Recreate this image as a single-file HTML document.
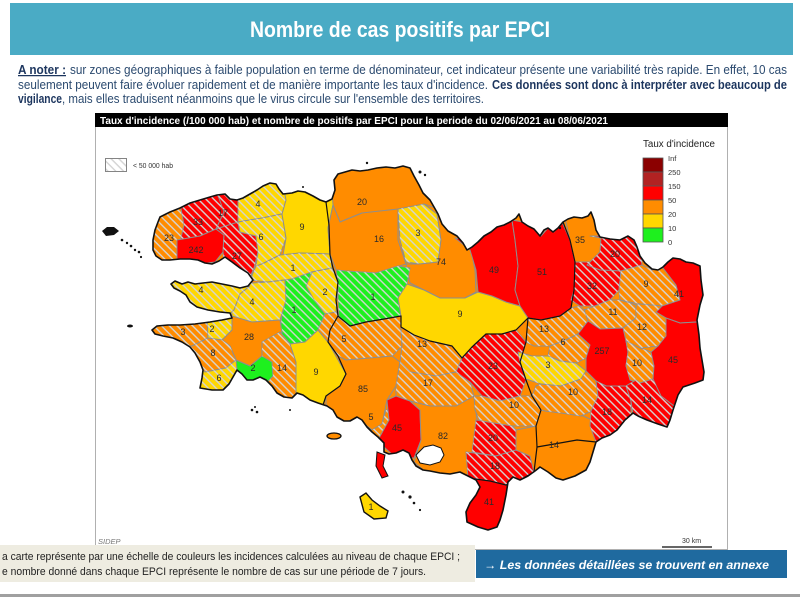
<!DOCTYPE html>
<html><head><meta charset="utf-8"><style>
html,body{margin:0;padding:0;background:#fff;}
body{width:800px;height:600px;overflow:hidden;}
svg{display:block;font-family:"Liberation Sans",Arial,sans-serif;}
.r{fill:#ff0000}.o{fill:#ff8c00}.y{fill:#ffd700}.g{fill:#1ef01e}
.reg polygon{stroke:#8e8e8e;stroke-width:1;stroke-linejoin:round}
.reg polygon.hh{fill:url(#h);stroke:none}
.lab text{font-size:9px;fill:#2a2a2a;text-anchor:middle}
</style></head><body>
<svg width="800" height="600" viewBox="0 0 800 600" xmlns="http://www.w3.org/2000/svg">
<defs>
<pattern id="h" patternUnits="userSpaceOnUse" width="5.5" height="5.5" patternTransform="rotate(45)">
<rect x="0" y="0" width="5.5" height="1.4" fill="#d4d4d4"/>
</pattern>
<clipPath id="land"><path id="landp" d="M160,217 L170,212 L180,208 L190,203 L200,200 L210,197 L217,195 L225,194 L230,199 L237,200 L243,198 L250,194 L257,190 L263,186 L270,183 L276,184 L279,189 L283,194 L292,193 L298,191 L305,192 L313,196 L320,200 L326,202 L332,199 L335,190 L334,180 L338,174 L345,172 L352,170 L360,171 L368,170 L377,168 L386,167 L395,168 L403,166 L410,168 L414,176 L419,185 L423,193 L430,200 L434,207 L438,214 L442,224 L448,231 L457,236 L463,243 L467,250 L472,247 L478,242 L484,236 L491,232 L497,227 L504,225 L510,222 L516,218 L519,214 L522,222 L528,226 L534,229 L540,236 L544,230 L548,228 L553,232 L558,228 L563,222 L568,219 L574,217 L582,218 L588,216 L591,212 L594,220 L596,230 L600,237 L610,239 L620,240 L628,236 L634,240 L637,247 L640,256 L645,263 L652,269 L658,270 L663,267 L668,262 L673,258 L680,259 L686,262 L693,263 L700,266 L701,280 L703,295 L700,305 L697,320 L699,335 L700,348 L702,360 L704,372 L703,380 L695,383 L683,387 L678,395 L673,410 L670,420 L667,427 L658,424 L647,420 L638,416 L633,413 L625,420 L617,430 L610,435 L602,438 L596,442 L593,452 L590,462 L586,470 L575,476 L563,480 L556,478 L548,472 L540,467 L535,471 L528,476 L520,480 L513,477 L508,482 L506,495 L503,510 L500,520 L497,527 L488,530 L478,527 L467,522 L466,512 L470,503 L476,495 L480,487 L476,480 L468,476 L460,472 L450,474 L440,473 L430,471 L423,470 L416,466 L412,460 L409,453 L403,450 L396,453 L389,454 L384,452 L384,443 L378,437 L372,432 L367,427 L362,420 L357,417 L350,421 L344,421 L337,417 L333,410 L327,406 L318,403 L310,400 L303,395 L297,393 L292,398 L284,397 L277,393 L272,386 L266,380 L260,377 L253,380 L247,380 L242,374 L237,370 L233,377 L229,384 L223,390 L212,390 L200,388 L202,378 L203,370 L200,362 L195,353 L190,347 L182,342 L173,338 L163,336 L155,334 L152,330 L157,326 L168,325 L180,325 L195,324 L210,322 L222,320 L232,318 L230,313 L220,312 L208,310 L197,307 L190,302 L186,295 L180,291 L174,288 L171,284 L175,281 L182,284 L188,282 L195,284 L203,283 L212,282 L222,284 L232,286 L240,288 L248,286 L253,280 L248,273 L240,268 L232,262 L225,257 L219,261 L212,264 L205,263 L198,260 L190,259 L180,259 L170,260 L162,260 L156,256 L153,250 L153,240 L155,230 L158,222 Z"/></clipPath>
</defs>

<!-- header -->
<rect x="10" y="3" width="783" height="52" fill="#4aabc5"/>
<text x="400" y="37" font-size="22" font-weight="bold" fill="#ffffff" text-anchor="middle" textLength="300" lengthAdjust="spacingAndGlyphs">Nombre de cas positifs par EPCI</text>

<!-- note paragraph -->
<g font-size="12.5">
<text x="18" y="74" font-weight="bold" fill="#1c355e" text-decoration="underline" textLength="48" lengthAdjust="spacingAndGlyphs">A noter :</text>
<text x="70" y="74" fill="#2b4a6f" textLength="717" lengthAdjust="spacingAndGlyphs">sur zones géographiques à faible population en terme de dénominateur, cet indicateur présente une variabilité très rapide. En effet, 10 cas</text>
<text x="18" y="89" fill="#2b4a6f" textLength="470" lengthAdjust="spacingAndGlyphs">seulement peuvent faire évoluer rapidement et de manière importante les taux d'incidence.</text>
<text x="492" y="89" font-weight="bold" fill="#1c355e" textLength="295" lengthAdjust="spacingAndGlyphs">Ces données sont donc à interpréter avec beaucoup de</text>
<text x="18" y="103" font-weight="bold" fill="#1c355e" textLength="44" lengthAdjust="spacingAndGlyphs">vigilance</text>
<text x="62" y="103" fill="#2b4a6f" textLength="422" lengthAdjust="spacingAndGlyphs">, mais elles traduisent néanmoins que le virus circule sur l'ensemble des territoires.</text>
</g>

<!-- map frame -->
<rect x="95.5" y="113.5" width="632" height="436" fill="#fff" stroke="#b0b0b0" stroke-width="1"/>
<rect x="95" y="113" width="633" height="14" fill="#000"/>
<text x="100" y="124" font-size="10" font-weight="bold" fill="#fff" textLength="508" lengthAdjust="spacingAndGlyphs">Taux d'incidence (/100 000 hab) et nombre de positifs par EPCI pour la periode du 02/06/2021 au 08/06/2021</text>

<!-- hatch legend -->
<rect x="105.5" y="158.5" width="21" height="13" fill="#fff" stroke="#666" stroke-width="0.8"/>
<rect x="106" y="159" width="20" height="12" fill="url(#h)"/>
<text x="133" y="168" font-size="7" fill="#333" textLength="40" lengthAdjust="spacingAndGlyphs">&lt; 50 000 hab</text>

<!-- color legend -->
<text x="643" y="147" font-size="10" fill="#222" textLength="72" lengthAdjust="spacingAndGlyphs">Taux d'incidence</text>
<g stroke="#555" stroke-width="0.8">
<rect x="643" y="158" width="20" height="14" fill="#8b0000"/>
<rect x="643" y="172" width="20" height="14" fill="#b22222"/>
<rect x="643" y="186" width="20" height="14" fill="#ff0000"/>
<rect x="643" y="200" width="20" height="14" fill="#ff8c00"/>
<rect x="643" y="214" width="20" height="14" fill="#ffd700"/>
<rect x="643" y="228" width="20" height="14" fill="#1ef01e"/>
</g>
<g font-size="7.5" fill="#333">
<text x="668" y="161">Inf</text>
<text x="668" y="175">250</text>
<text x="668" y="189">150</text>
<text x="668" y="203">50</text>
<text x="668" y="217">20</text>
<text x="668" y="231">10</text>
<text x="668" y="245">0</text>
</g>

<!-- map regions -->
<g clip-path="url(#land)">
<rect x="100" y="150" width="620" height="400" fill="#ff8c00"/>
<g class="reg">
<polygon class="o" points="140,205 187,200 193,225 182,240 178,262 140,265"/><polygon class="hh" points="140,205 187,200 193,225 182,240 178,262 140,265"/>
<polygon class="r" points="180,203 218,190 224,212 216,229 200,236 180,242 184,225"/><polygon class="hh" points="180,203 218,190 224,212 216,229 200,236 180,242 184,225"/>
<polygon class="r" points="216,190 238,192 238,222 224,232 216,229 224,212"/><polygon class="hh" points="216,190 238,192 238,222 224,232 216,229 224,212"/>
<polygon class="r" points="177,240 200,236 216,229 224,235 223,252 215,262 200,264 177,266"/>
<polygon class="r" points="216,229 238,222 240,232 256,236 258,252 254,268 248,282 232,282 224,262 223,252 224,235"/><polygon class="hh" points="216,229 238,222 240,232 256,236 258,252 254,268 248,282 232,282 224,262 223,252 224,235"/>
<polygon class="y" points="236,180 290,175 286,200 282,214 262,218 238,222 238,192"/><polygon class="hh" points="236,180 290,175 286,200 282,214 262,218 238,222 238,192"/>
<polygon class="y" points="238,222 262,218 282,214 286,238 280,255 262,264 256,266 258,252 256,236 240,232"/><polygon class="hh" points="238,222 262,218 282,214 286,238 280,255 262,264 256,266 258,252 256,236 240,232"/>
<polygon class="y" points="282,180 335,180 333,205 328,228 330,254 300,253 283,255 286,238 282,214 286,200"/>
<polygon class="y" points="256,266 262,264 280,255 300,253 330,254 332,268 312,272 292,279 268,282 250,280"/><polygon class="hh" points="256,266 262,264 280,255 300,253 330,254 332,268 312,272 292,279 268,282 250,280"/>
<polygon class="y" points="160,276 252,276 250,286 240,294 234,310 226,318 190,315 170,290"/><polygon class="hh" points="160,276 252,276 250,286 240,294 234,310 226,318 190,315 170,290"/>
<polygon class="y" points="236,284 268,282 285,280 286,300 280,320 252,322 232,320 226,318 234,310 240,294 250,286"/><polygon class="hh" points="236,284 268,282 285,280 286,300 280,320 252,322 232,320 226,318 234,310 240,294 250,286"/>
<polygon class="y" points="312,272 332,268 338,282 336,312 325,314 314,300 306,286"/><polygon class="hh" points="312,272 332,268 338,282 336,312 325,314 314,300 306,286"/>
<polygon class="g" points="285,280 292,279 312,272 306,286 314,300 325,314 318,330 305,342 290,344 280,332 282,315 286,300"/><polygon class="hh" points="285,280 292,279 312,272 306,286 314,300 325,314 318,330 305,342 290,344 280,332 282,315 286,300"/>
<polygon class="o" points="140,318 207,318 208,338 192,348 170,345 140,345"/><polygon class="hh" points="140,318 207,318 208,338 192,348 170,345 140,345"/>
<polygon class="y" points="205,316 232,314 232,330 222,340 208,338 207,318"/><polygon class="hh" points="205,316 232,314 232,330 222,340 208,338 207,318"/>
<polygon class="o" points="232,316 252,322 280,320 282,333 276,350 262,356 250,366 236,360 230,346 222,340 232,330"/>
<polygon class="o" points="192,346 208,338 222,340 230,346 236,360 226,368 205,372 195,362 180,346"/><polygon class="hh" points="192,346 208,338 222,340 230,346 236,360 226,368 205,372 195,362 180,346"/>
<polygon class="y" points="190,362 195,362 205,372 226,368 236,360 242,368 242,400 190,400"/><polygon class="hh" points="190,362 195,362 205,372 226,368 236,360 242,368 242,400 190,400"/>
<polygon class="g" points="236,360 250,366 262,356 272,362 273,376 264,386 248,386 238,380"/>
<polygon class="o" points="262,342 280,332 290,344 296,362 298,410 275,410 264,386 273,376 272,362 262,356"/><polygon class="hh" points="262,342 280,332 290,344 296,362 298,410 275,410 264,386 273,376 272,362 262,356"/>
<polygon class="y" points="290,344 305,342 318,330 328,342 338,356 346,374 340,386 326,396 322,410 296,410 296,362"/>

<polygon class="o" points="330,160 440,160 442,212 412,207 398,214 362,213 340,222 333,205"/>
<polygon class="o" points="333,205 340,222 362,213 398,209 398,240 406,264 376,273 346,271 336,270 330,254 328,228"/>
<polygon class="y" points="398,209 424,204 437,214 441,240 438,262 420,264 406,262 400,240"/><polygon class="hh" points="398,209 424,204 437,214 441,240 438,262 420,264 406,262 400,240"/>
<polygon class="o" points="424,204 442,210 458,235 470,245 475,270 476,292 465,298 440,298 424,290 410,283 406,264 420,264 438,262 441,240 437,214"/>
<polygon class="g" points="336,270 346,271 376,273 398,266 410,268 407,284 398,298 401,316 384,319 366,322 350,326 339,318 338,298 338,282"/><polygon class="hh" points="336,270 346,271 376,273 398,266 410,268 407,284 398,298 401,316 384,319 366,322 350,326 339,318 338,298 338,282"/>
<polygon class="y" points="398,298 407,284 424,290 440,298 465,298 478,292 492,296 506,302 520,306 528,318 516,330 502,334 486,334 472,347 462,358 452,346 430,341 414,335 401,327 401,316"/>
<polygon class="o" points="318,330 325,314 336,312 339,318 350,326 366,322 384,319 401,316 401,327 402,346 392,356 370,358 346,360 338,356 328,342"/><polygon class="hh" points="318,330 325,314 336,312 339,318 350,326 366,322 384,319 401,316 401,327 402,346 392,356 370,358 346,360 338,356 328,342"/>
<polygon class="o" points="401,327 414,335 430,341 452,346 462,358 456,372 436,376 410,372 400,362 402,346"/><polygon class="hh" points="401,327 414,335 430,341 452,346 462,358 456,372 436,376 410,372 400,362 402,346"/>
<polygon class="o" points="328,342 338,356 346,360 370,358 392,356 400,362 396,386 387,400 382,424 372,430 357,418 345,422 332,414 326,404 326,396 340,386 346,374"/>
<polygon class="o" points="357,418 372,430 382,424 386,410 396,410 390,440 379,445 365,430"/><polygon class="hh" points="357,418 372,430 382,424 386,410 396,410 390,440 379,445 365,430"/>
<polygon class="o" points="400,362 410,372 436,376 456,372 470,382 474,396 456,406 430,406 410,401 396,396 396,386"/><polygon class="hh" points="400,362 410,372 436,376 456,372 470,382 474,396 456,406 430,406 410,401 396,396 396,386"/>
<polygon class="r" points="387,400 396,396 410,401 420,410 421,440 414,458 396,458 384,447 378,440 389,420"/>
<polygon class="o" points="410,401 430,406 456,406 474,396 477,420 474,450 472,480 450,480 428,474 414,462 421,440 420,410"/>
<polygon class="r" points="472,347 486,334 502,334 516,330 526,342 520,362 526,380 520,396 500,401 482,396 470,382 456,372 462,358"/><polygon class="hh" points="472,347 486,334 502,334 516,330 526,342 520,362 526,380 520,396 500,401 482,396 470,382 456,372 462,358"/>
<polygon class="o" points="474,396 482,396 500,401 520,396 532,396 541,410 536,426 512,426 480,421 475,410"/><polygon class="hh" points="474,396 482,396 500,401 520,396 532,396 541,410 536,426 512,426 480,421 475,410"/>
<polygon class="r" points="476,420 512,426 518,432 516,450 496,456 472,452"/><polygon class="hh" points="476,420 512,426 518,432 516,450 496,456 472,452"/>
<polygon class="r" points="466,452 496,456 516,450 530,456 536,470 526,482 506,485 490,481 468,478"/><polygon class="hh" points="466,452 496,456 516,450 530,456 536,470 526,482 506,485 490,481 468,478"/>
<polygon class="o" points="516,430 536,426 541,410 570,410 592,420 602,440 596,452 590,472 563,482 552,478 540,468 534,472 530,456 516,450"/>
<polygon class="r" points="462,477 490,481 506,485 526,482 512,540 460,540"/>

<polygon class="r" points="455,238 470,240 484,236 498,226 512,220 515,240 518,266 515,290 520,306 506,302 492,296 478,292 476,270 470,250"/>
<polygon class="r" points="512,220 523,222 534,228 541,236 548,228 554,232 562,222 570,240 575,262 574,290 571,308 560,316 541,320 528,318 520,306 515,290 518,266 515,240"/>
<polygon class="o" points="562,205 598,205 601,238 600,252 590,262 575,262 570,240"/>
<polygon class="r" points="590,236 640,236 642,265 621,271 600,270 587,265 590,262 600,252 601,238"/><polygon class="hh" points="590,236 640,236 642,265 621,271 600,270 587,265 590,262 600,252 601,238"/>
<polygon class="r" points="575,262 590,262 587,265 600,270 621,271 619,290 610,300 595,306 580,306 571,300 574,290"/><polygon class="hh" points="575,262 590,262 587,265 600,270 621,271 619,290 610,300 595,306 580,306 571,300 574,290"/>
<polygon class="o" points="621,271 642,265 652,270 663,268 676,285 680,300 662,306 640,304 620,300 619,290"/><polygon class="hh" points="621,271 642,265 652,270 663,268 676,285 680,300 662,306 640,304 620,300 619,290"/>
<polygon class="r" points="663,268 672,250 710,250 710,325 697,322 680,323 666,318 656,312 662,306 680,300 676,285"/>
<polygon class="o" points="584,310 595,306 610,300 620,300 636,305 636,318 623,328 600,329 588,321"/><polygon class="hh" points="584,310 595,306 610,300 620,300 636,305 636,318 623,328 600,329 588,321"/>
<polygon class="o" points="636,305 640,304 662,306 656,312 666,318 666,336 658,346 640,348 626,341 623,328 636,318"/><polygon class="hh" points="636,305 640,304 662,306 656,312 666,318 666,336 658,346 640,348 626,341 623,328 636,318"/>
<polygon class="o" points="528,318 541,320 560,316 571,308 580,306 584,310 588,321 578,334 566,340 550,346 534,346 526,342"/><polygon class="hh" points="528,318 541,320 560,316 571,308 580,306 584,310 588,321 578,334 566,340 550,346 534,346 526,342"/>
<polygon class="o" points="550,346 566,340 578,334 590,345 586,358 576,363 560,361 548,356"/><polygon class="hh" points="550,346 566,340 578,334 590,345 586,358 576,363 560,361 548,356"/>
<polygon class="r" points="588,321 600,329 623,328 626,341 628,352 626,366 636,380 626,386 606,386 596,381 586,371 586,358 590,345 578,334"/>
<polygon class="o" points="626,341 640,348 651,352 654,366 653,379 640,383 630,380 626,366 628,352"/><polygon class="hh" points="626,341 640,348 651,352 654,366 653,379 640,383 630,380 626,366 628,352"/>
<polygon class="r" points="666,318 680,323 697,322 710,322 710,390 682,392 674,406 661,396 651,386 653,379 654,366 651,352 658,346 666,336"/>
<polygon class="y" points="518,352 532,356 548,356 560,361 576,363 586,371 581,379 561,386 541,384 526,379 520,362"/><polygon class="hh" points="518,352 532,356 548,356 560,361 576,363 586,371 581,379 561,386 541,384 526,379 520,362"/>
<polygon class="o" points="536,386 541,384 561,386 581,379 586,371 596,381 598,396 591,411 581,416 561,413 545,411 541,410 532,396"/><polygon class="hh" points="536,386 541,384 561,386 581,379 586,371 596,381 598,396 591,411 581,416 561,413 545,411 541,410 532,396"/>
<polygon class="r" points="596,381 606,386 626,386 631,401 631,416 618,431 608,438 596,442 590,426 591,411 598,396"/><polygon class="hh" points="596,381 606,386 626,386 631,401 631,416 618,431 608,438 596,442 590,426 591,411 598,396"/>
<polygon class="r" points="626,386 636,380 640,383 653,379 661,396 674,406 668,432 647,422 633,414 631,401"/><polygon class="hh" points="626,386 636,380 640,383 653,379 661,396 674,406 668,432 647,422 633,414 631,401"/>
</g>
<!-- department borders -->
<g fill="none" stroke="#111" stroke-width="1.2" stroke-linejoin="round">
<polyline points="326,202 329,225 330,255 333,268 338,282 336,300 338,316 330,330 328,342 338,356 346,374 340,386 326,396 322,408"/>
<polyline points="338,316 350,326 366,322 384,319 401,316 401,327 414,335 430,341 452,346 462,358 472,347 486,334 502,334 516,330 528,318 541,320 560,316 571,308 574,290 575,262 570,240 563,222"/>
<polyline points="528,318 526,342 520,362 526,380 532,396 541,410 536,426 537,447 534,472"/>
<polyline points="537,447 560,443 577,440 596,442"/>
<polyline points="534,472 520,480 506,485 490,481 468,478"/>
</g>
<!-- golfe du Morbihan -->
<polygon points="416,455 424,447 433,445 441,448 444,455 440,462 430,465 420,463" fill="#fff" stroke="#111" stroke-width="1"/>
</g>
<!-- coastline -->
<use href="#landp" fill="none" stroke="#111" stroke-width="1.6" stroke-linejoin="round"/>

<!-- islands -->
<g fill="#111">
<polygon points="102,231 107,227 114,227 119,231 114,235 106,236"/>
<circle cx="122" cy="240" r="1.3"/><circle cx="127" cy="243" r="1.2"/><circle cx="131" cy="246" r="1.3"/><circle cx="135" cy="250" r="1.2"/><circle cx="139" cy="252" r="1.3"/><circle cx="141" cy="257" r="1.1"/>
<ellipse cx="130" cy="326" rx="3" ry="1.5"/>
<circle cx="252" cy="410" r="1.3"/><circle cx="257" cy="412" r="1.3"/><circle cx="255" cy="407" r="1"/>
<circle cx="403" cy="492" r="1.5"/><circle cx="410" cy="497" r="1.6"/><circle cx="414" cy="503" r="1.3"/><circle cx="420" cy="510" r="1.1"/>
<circle cx="367" cy="163" r="1.2"/><circle cx="420" cy="172" r="1.5"/><circle cx="425" cy="175" r="1.2"/><circle cx="303" cy="187" r="1"/>
<circle cx="560" cy="228" r="1.2"/><circle cx="290" cy="410" r="1"/>
</g>
<ellipse cx="334" cy="436" rx="7" ry="3" fill="#ff8c00" stroke="#111" stroke-width="1.3"/>
<polygon points="360,497 366,493 372,500 380,506 388,511 386,518 374,519 364,512" fill="#ffd700" stroke="#111" stroke-width="1.4"/>
<polygon points="377,452 385,455 383,466 388,476 382,478 376,466" fill="#ff0000" stroke="#111" stroke-width="1"/>

<!-- labels -->
<g class="lab">
<text x="169" y="241">23</text><text x="198" y="225">33</text><text x="223" y="216">17</text><text x="196" y="253">242</text><text x="237" y="259">27</text>
<text x="258" y="207">4</text><text x="261" y="240">6</text><text x="302" y="230">9</text><text x="293" y="271">1</text><text x="201" y="293">4</text>
<text x="252" y="305">4</text><text x="325" y="295">2</text><text x="294" y="313">1</text><text x="183" y="335">3</text><text x="212" y="332">2</text>
<text x="249" y="340">28</text><text x="213" y="356">8</text><text x="219" y="381">6</text><text x="253" y="371">2</text><text x="282" y="371">14</text><text x="316" y="375">9</text>
<text x="362" y="205">20</text><text x="379" y="242">16</text><text x="418" y="236">3</text><text x="441" y="265">74</text><text x="373" y="300">1</text>
<text x="460" y="317">9</text><text x="344" y="342">5</text><text x="422" y="347">13</text><text x="363" y="392">85</text><text x="371" y="420">5</text>
<text x="428" y="386">17</text><text x="397" y="431">45</text><text x="443" y="439">82</text><text x="493" y="369">23</text><text x="514" y="408">10</text>
<text x="493" y="441">20</text><text x="495" y="469">18</text><text x="554" y="448">14</text><text x="489" y="505">41</text><text x="371" y="510">1</text>
<text x="494" y="273">49</text><text x="542" y="275">51</text><text x="580" y="243">35</text><text x="615" y="257">20</text><text x="592" y="289">32</text>
<text x="646" y="287">9</text><text x="679" y="297">41</text><text x="613" y="315">11</text><text x="642" y="330">12</text><text x="544" y="332">13</text>
<text x="563" y="345">6</text><text x="602" y="354">257</text><text x="637" y="366">10</text><text x="673" y="363">45</text><text x="548" y="368">3</text>
<text x="573" y="395">10</text><text x="607" y="415">18</text><text x="647" y="403">14</text>
</g>

<!-- source & scale -->
<text x="98" y="544" font-size="7.5" font-style="italic" fill="#777">SIDEP</text>
<text x="682" y="543" font-size="7" fill="#333">30 km</text>
<line x1="662" y1="547" x2="712" y2="547" stroke="#333" stroke-width="1.5"/>

<!-- caption -->
<rect x="0" y="545" width="475" height="37" fill="#eeece1"/>
<text x="2" y="560" font-size="11" fill="#222" textLength="458" lengthAdjust="spacingAndGlyphs">a carte représente par une échelle de couleurs les incidences calculées au niveau de chaque EPCI ;</text>
<text x="2" y="575" font-size="11" fill="#222" textLength="424" lengthAdjust="spacingAndGlyphs">e nombre donné dans chaque EPCI représente le nombre de cas sur une période de 7 jours.</text>

<!-- button -->
<rect x="476" y="550" width="311" height="28" fill="#1f6a9f"/>
<text x="484" y="569" font-size="12" font-weight="bold" font-style="italic" fill="#fff" textLength="285" lengthAdjust="spacingAndGlyphs">→ Les données détaillées se trouvent en annexe</text>

<!-- bottom line -->
<rect x="0" y="594" width="800" height="3" fill="#a0a0a0"/>
</svg>
</body></html>
